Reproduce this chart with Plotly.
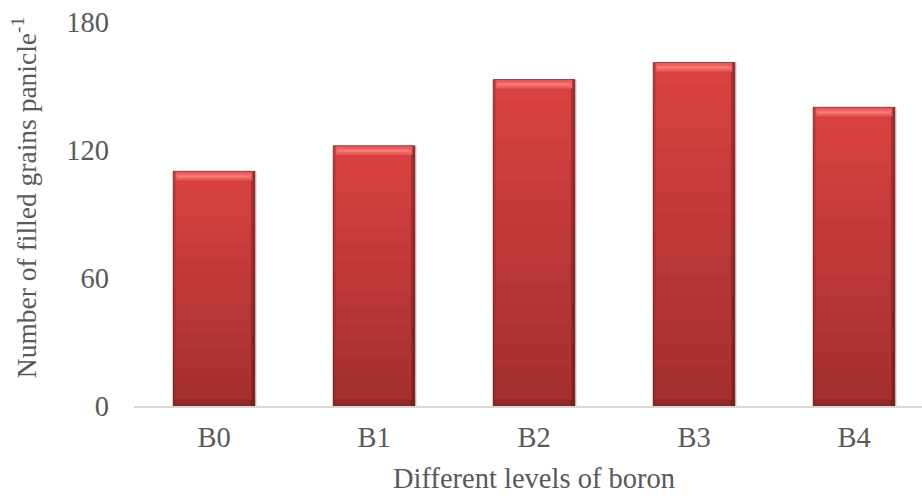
import plotly.graph_objects as go

# Filled grains per panicle under different boron levels
levels = ["B0", "B1", "B2", "B3", "B4"]
grains = [110, 122, 153, 161, 140]
y_ticks = [0, 60, 120, 180]

x_title = "Different levels of boron"
y_title = "Number of filled grains panicle<sup>-1</sup>"

FONT = "Liberation Serif"
SIZE = 28.5
TEXT = "#595959"
BAR_W = 0.51
HALF = BAR_W / 2


def mix(c1, c2, t):
    return "rgb({},{},{})".format(*[round(a + (b - a) * t) for a, b in zip(c1, c2)])


top_rgb = (218, 66, 65)
bottom_rgb = (163, 47, 46)

fig = go.Figure()

# soft drop shadow behind each bar
fig.add_trace(go.Bar(
    x=levels, y=grains, width=BAR_W, offset=-HALF + 0.012,
    marker=dict(color="rgba(0,0,0,0.16)", line=dict(width=0)),
    hoverinfo="skip", showlegend=False,
))

# vertical gradient: tallest (lightest) bar first, shorter darker bars on top,
# every layer rooted at zero so no seams show between bands
N = 16
for i in reversed(range(N)):
    fig.add_trace(go.Bar(
        x=levels, y=[v * (i + 1) / N for v in grains],
        width=BAR_W, offset=-HALF,
        marker=dict(color=mix(bottom_rgb, top_rgb, (i + 0.5) / N), line=dict(width=0)),
        hoverinfo="skip", showlegend=False,
    ))

# darker right edge and lighter left edge of the bevel
fig.add_trace(go.Bar(
    x=levels, y=grains, width=0.022, offset=HALF - 0.022,
    marker=dict(color="rgba(90,20,20,0.45)", line=dict(width=0)),
    hoverinfo="skip", showlegend=False,
))
fig.add_trace(go.Bar(
    x=levels, y=grains, width=0.015, offset=-HALF,
    marker=dict(color="rgba(120,30,30,0.25)", line=dict(width=0)),
    hoverinfo="skip", showlegend=False,
))
# darker band at the bottom
fig.add_trace(go.Bar(
    x=levels, y=[3] * len(levels), base=[0] * len(levels),
    width=BAR_W, offset=-HALF,
    marker=dict(color="rgba(110,25,25,0.35)", line=dict(width=0)),
    hoverinfo="skip", showlegend=False,
))

# highlight bands along the top bevel
fig.add_trace(go.Bar(
    x=levels, y=[4.2] * len(levels), base=[v - 4.2 for v in grains],
    width=BAR_W - 0.03, offset=-HALF + 0.015,
    marker=dict(color="rgb(236,92,90)", line=dict(width=0)),
    hoverinfo="skip", showlegend=False,
))
fig.add_trace(go.Bar(
    x=levels, y=[1.4] * len(levels), base=[v - 3.0 for v in grains],
    width=BAR_W - 0.05, offset=-HALF + 0.025,
    marker=dict(color="rgb(246,120,118)", line=dict(width=0)),
    hoverinfo="skip", showlegend=False,
))

# thin outline around each bar
fig.add_trace(go.Bar(
    x=levels, y=grains, width=BAR_W, offset=-HALF,
    marker=dict(color="rgba(0,0,0,0)", line=dict(color="rgba(95,35,35,0.65)", width=1)),
    hovertemplate="%{x}: %{y}<extra></extra>", showlegend=False,
))

fig.update_layout(
    width=922, height=496,
    margin=dict(l=134, r=0, t=22, b=90),
    paper_bgcolor="white", plot_bgcolor="white",
    barmode="overlay",
    font=dict(family=FONT, size=SIZE, color=TEXT),
    xaxis=dict(
        range=[-0.5, 4.425], showgrid=False, zeroline=False,
        showline=True, linecolor="#d9d9d9", linewidth=1.5,
        ticks="", ticklabelstandoff=5,
        tickfont=dict(family=FONT, size=SIZE, color=TEXT),
    ),
    yaxis=dict(
        range=[0, 180], tickvals=y_ticks, showgrid=False, zeroline=False,
        showline=False, ticks="", ticklabelstandoff=24,
        tickfont=dict(family=FONT, size=SIZE, color=TEXT),
    ),
    annotations=[
        dict(text=x_title, x=2, xref="x", y=-0.1875, yref="paper",
             xanchor="center", yanchor="middle", showarrow=False,
             font=dict(family=FONT, size=SIZE, color=TEXT)),
        dict(text=y_title, x=-0.138, xref="paper", y=0.542, yref="paper",
             xanchor="center", yanchor="middle", textangle=-90, showarrow=False,
             font=dict(family=FONT, size=27.5, color=TEXT)),
    ],
)

fig.write_html("out.html")
